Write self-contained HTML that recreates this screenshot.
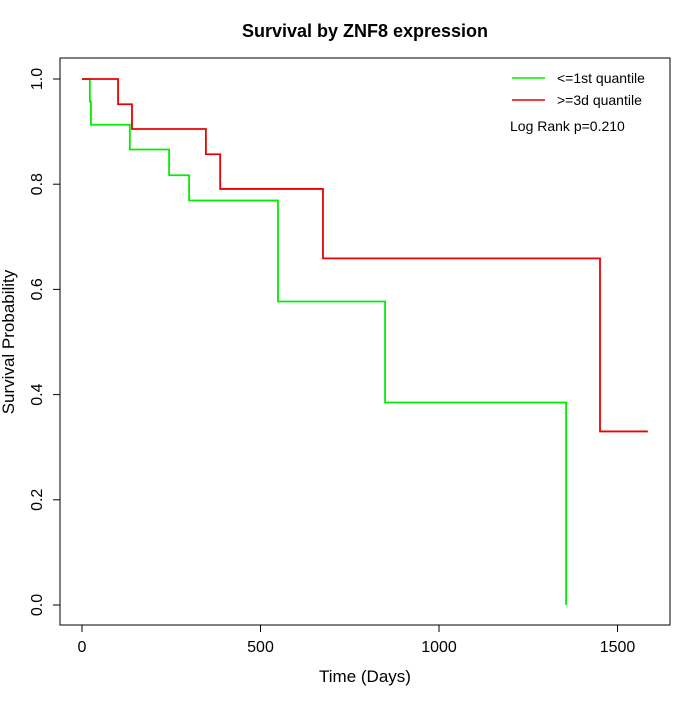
<!DOCTYPE html>
<html><head><meta charset="utf-8"><style>
body{margin:0;background:#fff;font-family:"Liberation Sans",sans-serif}
svg text{font-family:"Liberation Sans",sans-serif}
</style></head><body>
<svg id="chart" width="700" height="700">
<text x="365" y="37" text-anchor="middle" font-size="18" font-weight="bold">Survival by ZNF8 expression</text>
<rect x="60" y="58" width="610" height="567" fill="none" stroke="#000"/>
<g id="xaxis"></g>
<g id="yaxis"></g>
<text x="365" y="682" text-anchor="middle" font-size="17">Time (Days)</text>
<text transform="translate(14,342) rotate(-90)" text-anchor="middle" font-size="17">Survival Probability</text>
<g id="series"></g>
<g>
<line x1="512" y1="78" x2="545" y2="78" stroke="#00ee00" stroke-width="1.5"/>
<text x="557" y="83" font-size="14">&lt;=1st quantile</text>
<line x1="512" y1="100" x2="545" y2="100" stroke="#ee0000" stroke-width="1.5"/>
<text x="557" y="105" font-size="14">&gt;=3d quantile</text>
<text x="510" y="131" font-size="14">Log Rank p=0.210</text>
</g>
</svg>
<script>
const xTicks=[0,500,1000,1500];
const yTicks=[0,0.2,0.4,0.6,0.8,1.0];
const lowTimes=[0,22,25,134,244,300,549,849,1356];
const lowSurv=[1.0,0.957,0.913,0.866,0.817,0.769,0.577,0.385,0.0];
const lowEnd=1356;
const highTimes=[0,101,140,347,387,675,1451];
const highSurv=[1.0,0.952,0.905,0.857,0.791,0.659,0.33];
const highEnd=1585;
const X=d=>82+d*0.357, Y=p=>605-p*526;
const NS="http://www.w3.org/2000/svg";
function mk(t,a,p){const e=document.createElementNS(NS,t);for(const k in a)e.setAttribute(k,a[k]);p.appendChild(e);return e;}
const xa=document.getElementById('xaxis'), ya=document.getElementById('yaxis');
mk('line',{x1:X(xTicks[0]),x2:X(xTicks[xTicks.length-1]),y1:625,y2:625,stroke:'#000'},xa);
xTicks.forEach(v=>{
 const l=mk('line',{x1:X(v),x2:X(v),y1:625,y2:632,stroke:'#000'},xa);
 
 
 const t=mk('text',{x:X(v),y:652,'text-anchor':'middle','font-size':16},xa);t.textContent=v;
 
 
});
mk('line',{x1:60,x2:60,y1:Y(0),y2:Y(1),stroke:'#000'},ya);
yTicks.forEach(v=>{
 const l=mk('line',{x1:53,x2:60,y1:Y(v),y2:Y(v),stroke:'#000'},ya);
 
 
 const t=mk('text',{transform:`translate(42,${Y(v)}) rotate(-90)`,'text-anchor':'middle','font-size':16},ya);t.textContent=v.toFixed(1);
 
 
});
function step(times,surv,end,col,name){
 let d=`M${X(times[0])},${Y(surv[0])}`;
 for(let i=1;i<times.length;i++){d+=`H${X(times[i])}V${Y(surv[i])}`;}
 d+=`H${X(end)}`;
 const p=mk('path',{d:d,fill:'none',stroke:col,'stroke-width':1.8},document.getElementById('series'));
 
 
}
step(lowTimes,lowSurv,lowEnd,'#00ee00','low-expression-curve');
step(highTimes,highSurv,highEnd,'#ee0000','high-expression-curve');
</script>
</body></html>
